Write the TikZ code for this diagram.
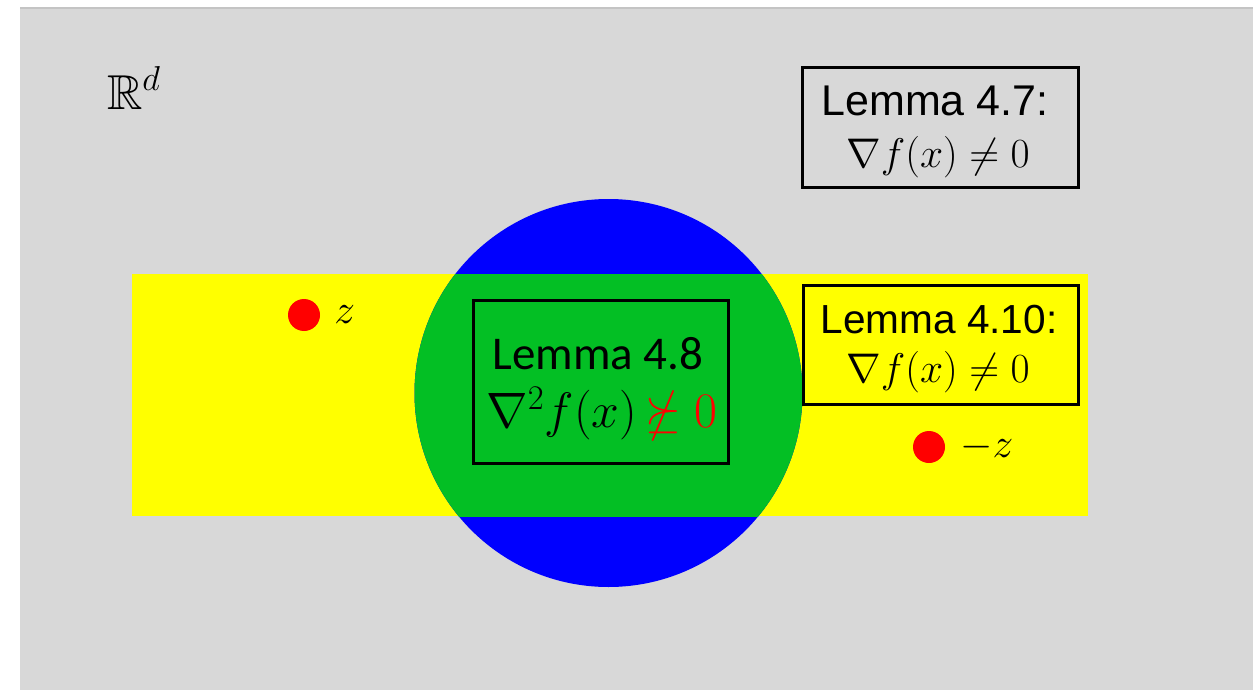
\documentclass[tikz,border=0pt]{standalone}
\usepackage{amssymb}
\usepackage[no-math]{fontspec}
\setmainfont{Liberation Sans}
\newfontfamily\calibri{Carlito}
\definecolor{bggray}{HTML}{D8D8D8}
\definecolor{bgline}{HTML}{C4C4C4}
\definecolor{myyellow}{HTML}{FFFF00}
\definecolor{myblue}{HTML}{0000FF}
\definecolor{mygreen}{HTML}{03BF24}
\definecolor{myred}{HTML}{FF0000}
\tikzset{
  lembox/.style={draw=black, line width=1.5pt},
  txt/.style={inner sep=0pt, anchor=center},
  dot/.style={circle, fill=myred, inner sep=0pt, minimum size=16pt}
}
\begin{document}
\begin{tikzpicture}[x=0.5pt,y=-0.5pt]
\useasboundingbox (0,0) rectangle (1253,690);
\fill[white] (0,0) rectangle (1253,690);
\fill[bggray] (20,8) rectangle (1253,690);
\draw[bgline, line width=0.6pt] (20,8) -- (1253,8);
% yellow band and blue disc
\fill[myyellow] (132,274) rectangle (1088,516);
\fill[myblue] (608.5,393) circle [radius=194];
\begin{scope}
  \clip (132,274) rectangle (1088,516);
  \fill[mygreen] (608.5,393) circle [radius=194];
\end{scope}
% R^d
\node[txt] (rd) at (134,88) {\fontsize{24.5}{28}\selectfont$\mathbb{R}^{\mbox{\fontsize{19}{20}\selectfont$d$}}$};
% Lemma 4.7
\draw[lembox] (802,68) rectangle (1078,187);
\node[txt] (l47a) at (935,101) {\fontsize{21.5}{26}\selectfont Lemma 4.7:};
\node[txt] (l47b) at (938,157) {\fontsize{21}{26}\selectfont$\nabla f(x)\neq 0$};
% Lemma 4.10
\draw[lembox] (803,285) rectangle (1078,404);
\node[txt] (l410a) at (939,320) {\fontsize{20.3}{24}\selectfont Lemma 4.10:};
\node[txt] (l410b) at (938,372) {\fontsize{21}{26}\selectfont$\nabla f(x)\neq 0$};
% Lemma 4.8
\draw[lembox] (473,300) rectangle (728,463);
\node[txt] (l48a) at (598,354) {\calibri\fontsize{23.5}{28}\selectfont Lemma 4.8};
\node[txt] (l48b) at (602,414) {\fontsize{23}{28}\selectfont$\nabla^2 f(x)\,{\color{myred}\nsucceq 0}$};
% points
\node[dot] (pz) at (304,315) {};
\node[txt, anchor=west] (lz) at (334,315) {\fontsize{22}{26}\selectfont$z$};
\node[dot] (pmz) at (929,447) {};
\node[txt, anchor=west] (lmz) at (960,447) {\fontsize{22}{26}\selectfont$-z$};
\end{tikzpicture}
\end{document}
